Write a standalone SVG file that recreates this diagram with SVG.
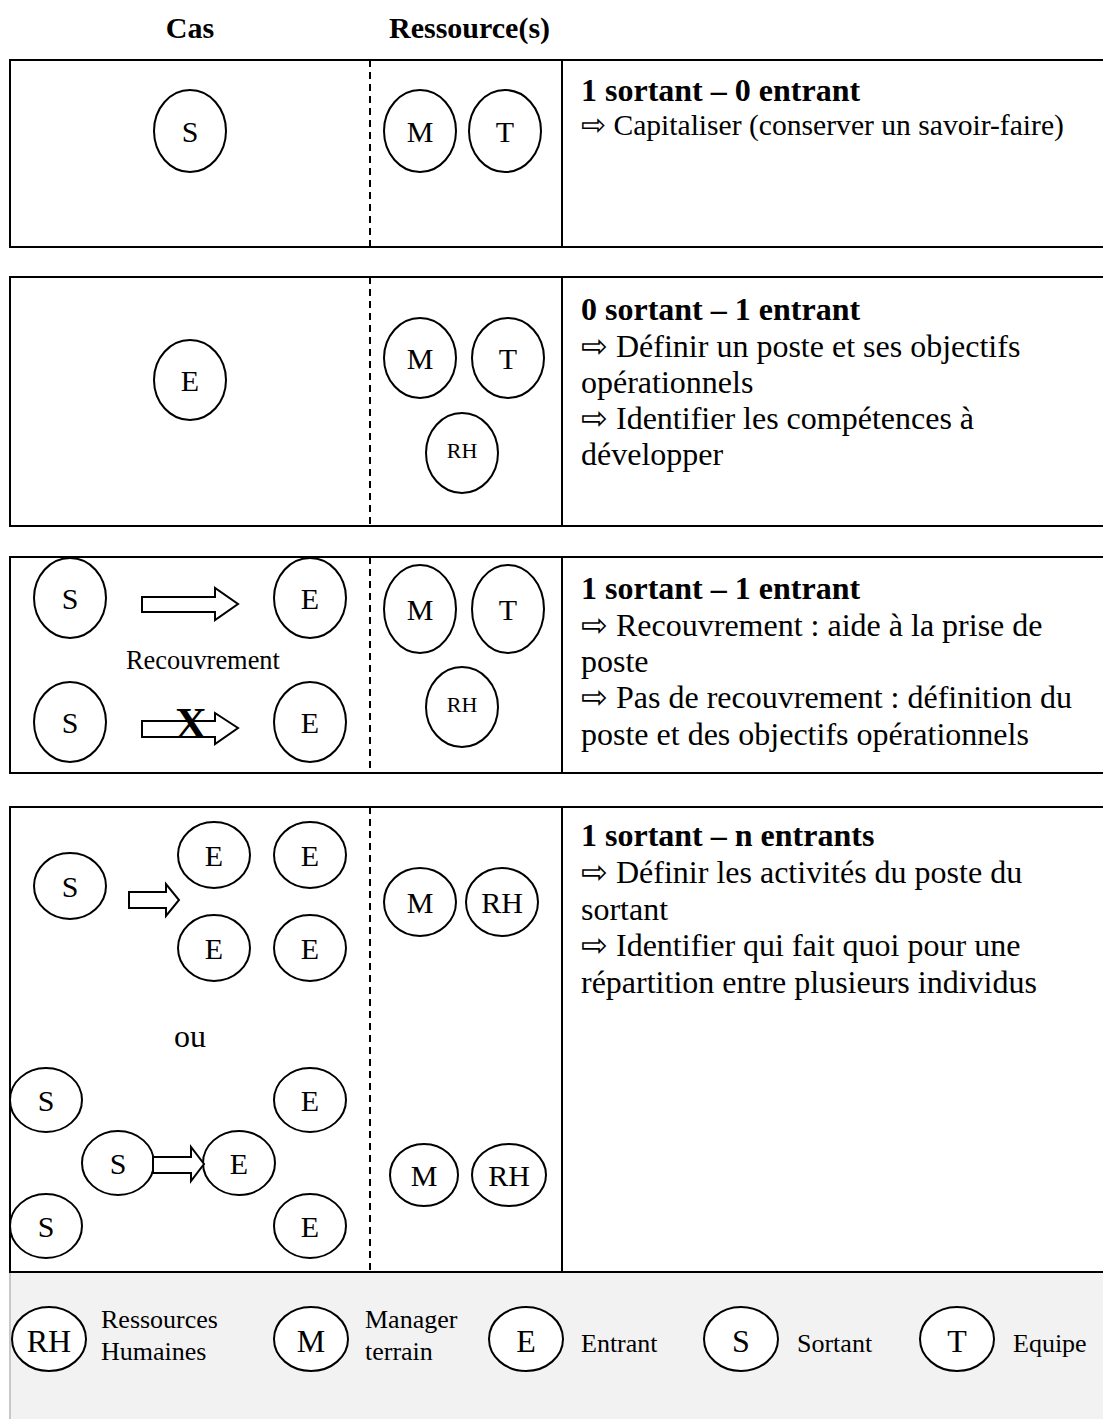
<svg xmlns="http://www.w3.org/2000/svg" width="1103" height="1419" viewBox="0 0 1103 1419">
<style>
.box{fill:#fff;stroke:#000;stroke-width:2}
.dash{stroke:#000;stroke-width:2;stroke-dasharray:7 5}
.div{stroke:#000;stroke-width:2}
.c{fill:#fff;stroke:#000;stroke-width:2}
.cl{font-family:"Liberation Serif","Times New Roman",serif;font-size:30px;text-anchor:middle;dominant-baseline:central;fill:#000}
.cs{font-size:22px}
.hd{font-family:"Liberation Serif","Times New Roman",serif;font-size:30px;font-weight:bold;fill:#000}
.h{font-family:"Liberation Serif","Times New Roman",serif;font-size:32px;font-weight:bold;fill:#000}
.t{font-family:"Liberation Serif","Times New Roman",serif;font-size:32px;fill:#000}
.ar{fill:#fff;stroke:#000;stroke-width:2;stroke-linejoin:miter}
.lg{font-family:"Liberation Serif","Times New Roman",serif;font-size:26px;fill:#000}
.lc{font-size:32px}
</style>
<rect x="0" y="0" width="1103" height="1419" fill="#fff"/>
<g id="headers">
<text class="hd" x="190" y="38" text-anchor="middle">Cas</text>
<text class="hd" x="389" y="38">Ressource(s)</text>
</g>
<g id="legend-bg">
<rect x="10" y="1272" width="1100" height="150" fill="#f2f2f2"/>
<line x1="10" y1="1272" x2="10" y2="1419" stroke="#c8c8c8" stroke-width="2"/>
</g>
<!-- Row 1 -->
<g id="row1">
<rect class="box" x="10" y="60" width="1110" height="187"/>
<line class="dash" x1="370" y1="60" x2="370" y2="247"/>
<line class="div" x1="562" y1="60" x2="562" y2="247"/>
<g id="r1-S"><ellipse class="c" cx="190" cy="131" rx="36" ry="41"/><text class="cl" x="190" y="131">S</text></g>
<g id="r1-M"><ellipse class="c" cx="420" cy="131" rx="36" ry="41"/><text class="cl" x="420" y="131">M</text></g>
<g id="r1-T"><ellipse class="c" cx="505" cy="131" rx="36" ry="41"/><text class="cl" x="505" y="131">T</text></g>
<text class="h" x="581" y="101">1 sortant – 0 entrant</text>
<text class="t" x="581" y="135" style="font-size:29.6px">⇨ Capitaliser (conserver un savoir-faire)</text>
</g>
<!-- Row 2 -->
<g id="row2">
<rect class="box" x="10" y="277" width="1110" height="249"/>
<line class="dash" x1="370" y1="277" x2="370" y2="526"/>
<line class="div" x1="562" y1="277" x2="562" y2="526"/>
<g id="r2-E"><ellipse class="c" cx="190" cy="380" rx="36" ry="40"/><text class="cl" x="190" y="380">E</text></g>
<g id="r2-M"><ellipse class="c" cx="420" cy="358" rx="36" ry="40"/><text class="cl" x="420" y="358">M</text></g>
<g id="r2-T"><ellipse class="c" cx="508" cy="358" rx="36" ry="40"/><text class="cl" x="508" y="358">T</text></g>
<g id="r2-RH"><ellipse class="c" cx="462" cy="453" rx="36" ry="40"/><text class="cl cs" x="462" y="450">RH</text></g>
<text class="h" x="581" y="320">0 sortant – 1 entrant</text>
<text class="t" x="581" y="357">⇨ Définir un poste et ses objectifs</text>
<text class="t" x="581" y="393">opérationnels</text>
<text class="t" x="581" y="429">⇨ Identifier les compétences à</text>
<text class="t" x="581" y="465">développer</text>
</g>
<!-- Row 3 -->
<g id="row3">
<rect class="box" x="10" y="557" width="1110" height="216"/>
<line class="dash" x1="370" y1="557" x2="370" y2="773"/>
<line class="div" x1="562" y1="557" x2="562" y2="773"/>
<g id="r3-S1"><ellipse class="c" cx="70" cy="598" rx="36" ry="40"/><text class="cl" x="70" y="598">S</text></g>
<g id="r3-E1"><ellipse class="c" cx="310" cy="598" rx="36" ry="40"/><text class="cl" x="310" y="598">E</text></g>
<g id="r3-S2"><ellipse class="c" cx="70" cy="722" rx="36" ry="40"/><text class="cl" x="70" y="722">S</text></g>
<g id="r3-E2"><ellipse class="c" cx="310" cy="722" rx="36" ry="40"/><text class="cl" x="310" y="722">E</text></g>
<g id="r3-M"><ellipse class="c" cx="420" cy="609" rx="36" ry="44"/><text class="cl" x="420" y="609">M</text></g>
<g id="r3-T"><ellipse class="c" cx="508" cy="609" rx="36" ry="44"/><text class="cl" x="508" y="609">T</text></g>
<g id="r3-RH"><ellipse class="c" cx="462" cy="707" rx="36" ry="40"/><text class="cl cs" x="462" y="704">RH</text></g>
<text class="t" x="126" y="669" style="font-size:26.4px">Recouvrement</text>
<text class="h" x="581" y="599">1 sortant – 1 entrant</text>
<text class="t" x="581" y="636">⇨ Recouvrement : aide à la prise de</text>
<text class="t" x="581" y="672">poste</text>
<text class="t" x="581" y="708">⇨ Pas de recouvrement : définition du</text>
<text class="t" x="581" y="745">poste et des objectifs opérationnels</text>
</g>
<!-- Row 4 -->
<g id="row4">
<rect class="box" x="10" y="807" width="1110" height="465"/>
<line class="dash" x1="370" y1="807" x2="370" y2="1272"/>
<line class="div" x1="562" y1="807" x2="562" y2="1272"/>
<g id="r4-S"><ellipse class="c" cx="70" cy="886" rx="36" ry="33"/><text class="cl" x="70" y="886">S</text></g>
<g id="r4-E1"><ellipse class="c" cx="214" cy="855" rx="36" ry="33"/><text class="cl" x="214" y="855">E</text></g>
<g id="r4-E2"><ellipse class="c" cx="310" cy="855" rx="36" ry="33"/><text class="cl" x="310" y="855">E</text></g>
<g id="r4-E3"><ellipse class="c" cx="214" cy="948" rx="36" ry="33"/><text class="cl" x="214" y="948">E</text></g>
<g id="r4-E4"><ellipse class="c" cx="310" cy="948" rx="36" ry="33"/><text class="cl" x="310" y="948">E</text></g>
<g id="r4-M1"><ellipse class="c" cx="420" cy="902" rx="36" ry="34"/><text class="cl" x="420" y="902">M</text></g>
<g id="r4-RH1"><ellipse class="c" cx="502" cy="902" rx="36" ry="34"/><text class="cl" x="502" y="902">RH</text></g>
<text class="t" x="190" y="1047" text-anchor="middle">ou</text>
<g id="r4-S2"><ellipse class="c" cx="46" cy="1100" rx="36" ry="32"/><text class="cl" x="46" y="1100">S</text></g>
<g id="r4-E5"><ellipse class="c" cx="310" cy="1100" rx="36" ry="32"/><text class="cl" x="310" y="1100">E</text></g>
<g id="r4-S3"><ellipse class="c" cx="118" cy="1163" rx="36" ry="32"/><text class="cl" x="118" y="1163">S</text></g>
<g id="r4-E6"><ellipse class="c" cx="239" cy="1163" rx="36" ry="32"/><text class="cl" x="239" y="1163">E</text></g>
<g id="r4-S4"><ellipse class="c" cx="46" cy="1226" rx="36" ry="32"/><text class="cl" x="46" y="1226">S</text></g>
<g id="r4-E7"><ellipse class="c" cx="310" cy="1226" rx="36" ry="32"/><text class="cl" x="310" y="1226">E</text></g>
<g id="r4-M2"><ellipse class="c" cx="424" cy="1175" rx="34" ry="31"/><text class="cl" x="424" y="1175">M</text></g>
<g id="r4-RH2"><ellipse class="c" cx="509" cy="1175" rx="37" ry="31"/><text class="cl" x="509" y="1175">RH</text></g>
<text class="h" x="581" y="846">1 sortant – n entrants</text>
<text class="t" x="581" y="883">⇨ Définir les activités du poste du</text>
<text class="t" x="581" y="920">sortant</text>
<text class="t" x="581" y="956">⇨ Identifier qui fait quoi pour une</text>
<text class="t" x="581" y="993">répartition entre plusieurs individus</text>
</g>
<g id="connectors">
<polygon class="ar" points="142,597 215,597 215,588 238,604 215,620 215,612 142,612"/>
<polygon class="ar" points="142,721 215,721 215,713 238,728 215,744 215,737 142,737"/>
<text x="191" y="738" text-anchor="middle" style="font-family:'Liberation Serif','Times New Roman',serif;font-size:44px;font-weight:bold">X</text>
<polygon class="ar" points="129,892 166,892 166,884 179,900 166,916 166,908 129,908"/>
<polygon class="ar" points="153,1157 191,1157 191,1147 204,1164 191,1181 191,1173 153,1173"/>
</g>
<g id="legend">
<g id="lg-RH"><ellipse class="c" cx="49" cy="1339" rx="37" ry="32"/><text class="cl lc" x="49" y="1341">RH</text></g>
<text class="lg" x="101" y="1328">Ressources</text>
<text class="lg" x="101" y="1360">Humaines</text>
<g id="lg-M"><ellipse class="c" cx="311" cy="1339" rx="37" ry="32"/><text class="cl lc" x="311" y="1341">M</text></g>
<text class="lg" x="365" y="1328">Manager</text>
<text class="lg" x="365" y="1360">terrain</text>
<g id="lg-E"><ellipse class="c" cx="526" cy="1339" rx="37" ry="32"/><text class="cl lc" x="526" y="1341">E</text></g>
<text class="lg" x="581" y="1352">Entrant</text>
<g id="lg-S"><ellipse class="c" cx="741" cy="1339" rx="37" ry="32"/><text class="cl lc" x="741" y="1341">S</text></g>
<text class="lg" x="797" y="1352">Sortant</text>
<g id="lg-T"><ellipse class="c" cx="957" cy="1339" rx="37" ry="32"/><text class="cl lc" x="957" y="1341">T</text></g>
<text class="lg" x="1013" y="1352">Equipe</text>
</g>
</svg>
